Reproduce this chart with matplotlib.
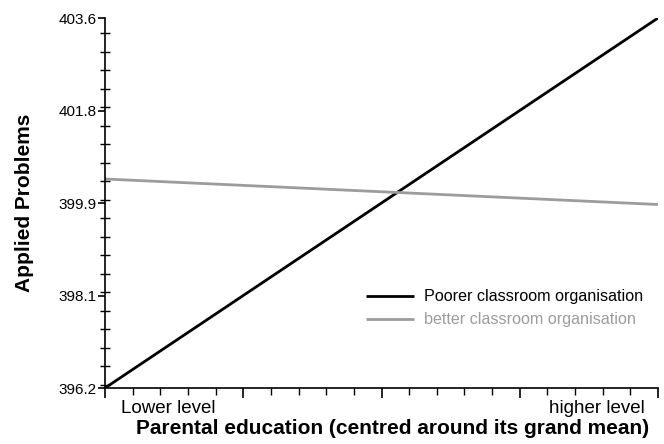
import matplotlib
matplotlib.use("Agg")
import matplotlib.pyplot as plt
import numpy as np
from matplotlib.ticker import FixedLocator, FixedFormatter, MultipleLocator

plt.rcParams['font.family'] = ['Liberation Sans', 'DejaVu Sans']

# Data
x_ends = [0, 20]
series_names = ["Poorer classroom organisation", "better classroom organisation"]
poorer = [396.2, 403.6]
better = [400.38, 399.87]
y_ticks = [396.2, 398.05, 399.9, 401.75, 403.6]
y_ticklabels = ["396.2", "398.1", "399.9", "401.8", "403.6"]
x_text_labels = ["Lower level", "higher level"]
x_text_pos = [2.3, 17.8]

fig = plt.figure(figsize=(6.64, 4.44), dpi=100)
ax = fig.add_axes([105/664, 1-388/444, (658-105)/664, (388-18)/444])

ax.plot(x_ends, poorer, color='black', lw=2.0, label=series_names[0], solid_capstyle='butt')
ax.plot(x_ends, better, color='#9c9c9c', lw=2.0, label=series_names[1], solid_capstyle='butt')

ax.set_xlim(0, 20)
ax.set_ylim(396.2, 403.6)

for s in ['top', 'right']:
    ax.spines[s].set_visible(False)
for s in ['left', 'bottom']:
    ax.spines[s].set_linewidth(1.2)

ax.yaxis.set_major_locator(FixedLocator(y_ticks))
ax.yaxis.set_major_formatter(FixedFormatter(y_ticklabels))
ax.yaxis.set_minor_locator(MultipleLocator(1.85/5))
ax.xaxis.set_major_locator(MultipleLocator(5))
ax.xaxis.set_minor_locator(MultipleLocator(1))
ax.xaxis.set_major_formatter(FixedFormatter([]))
ax.tick_params(axis='y', which='major', direction='out', length=5, width=1.2, labelsize=11, pad=1)
ax.tick_params(axis='y', which='minor', direction='inout', length=7, width=1.0)
ax.tick_params(axis='x', which='major', direction='out', length=7, width=1.2, labelbottom=False)
ax.tick_params(axis='x', which='minor', direction='out', length=5, width=1.0)

for t, xp in zip(x_text_labels, x_text_pos):
    ax.text(xp, -0.033, t, transform=ax.get_xaxis_transform(), ha='center', va='top', fontsize=13.5)

ax.set_xlabel("Parental education (centred around its grand mean)", fontsize=15, fontweight='bold', labelpad=20)
ax.xaxis.set_label_coords(0.52, -0.085)
ax.xaxis.label.set_va('top')
ax.set_ylabel("Applied Problems", fontsize=15, fontweight='bold')
ax.yaxis.set_label_coords(-0.128, 0.5)

leg = ax.legend(loc='lower right', bbox_to_anchor=(1.0, 0.125), frameon=False, fontsize=11.6,
                labelcolor='linecolor', handlelength=3.0, handletextpad=0.65, labelspacing=0.5)

fig.savefig("out.png", dpi=100)
